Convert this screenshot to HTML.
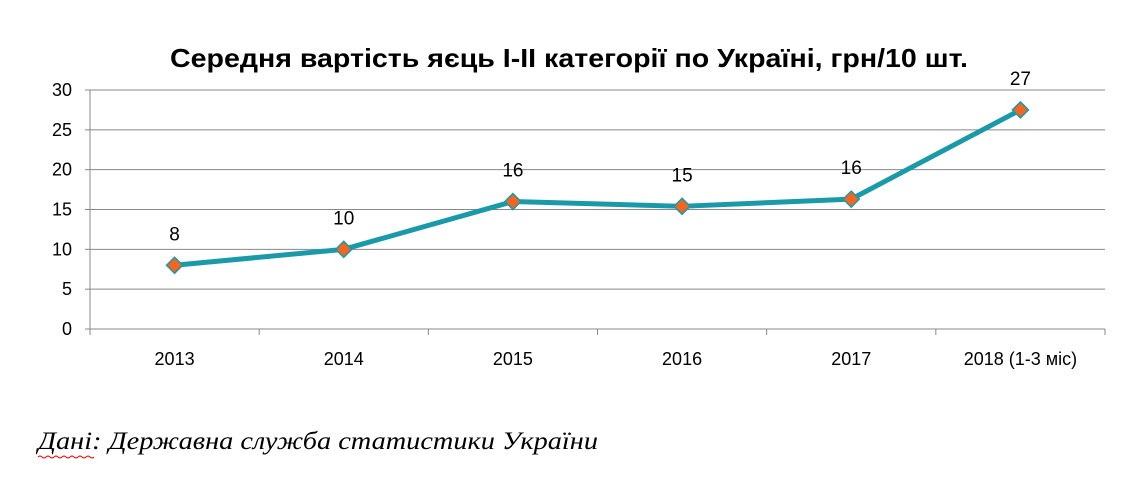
<!DOCTYPE html>
<html><head><meta charset="utf-8"><style>
body{margin:0;background:#fff;width:1130px;height:475px;overflow:hidden;font-family:"Liberation Sans",sans-serif}
</style></head><body>
<svg width="1130" height="475" xmlns="http://www.w3.org/2000/svg">
<text x="170" y="67" font-size="26" font-weight="bold" textLength="798" lengthAdjust="spacingAndGlyphs" font-family="Liberation Sans, sans-serif">Середня вартість яєць I-II категорії по Україні, грн/10 шт.</text>
<g id="grid"></g><g id="axes"></g><g id="series"></g>
<text x="38" y="449" font-size="25" font-style="italic" textLength="560" lengthAdjust="spacingAndGlyphs" font-family="Liberation Serif, serif">Дані: Державна служба статистики України</text>
<path d="M38 457 q2 -2 4 0 t4 0 t4 0 t4 0 t4 0 t4 0 t4 0 t4 0 t4 0 t4 0 t4 0 t4 0 t4 0 t4 0" stroke="#e00" stroke-width="1" fill="none"/>
</svg>
<script>
const categories=["2013","2014","2015","2016","2017","2018 (1-3 міс)"];
const values=[8,10,16,15.4,16.3,27.5];
const labels=["8","10","16","15","16","27"];
const yTicks=[0,5,10,15,20,25,30];
const NS="http://www.w3.org/2000/svg";
const X0=90,X1=1105,Y0=329,Y1=90,YMAX=30;
const band=(X1-X0)/categories.length;
const xs=i=>X0+band*(i+0.5);
const ys=v=>Y0-(v/YMAX)*(Y0-Y1);
function mk(t,a,p){const e=document.createElementNS(NS,t);for(const k in a)e.setAttribute(k,a[k]);p.appendChild(e);return e;}
const g=document.getElementById('grid'),ax=document.getElementById('axes'),s=document.getElementById('series');
yTicks.forEach(v=>{
 const y=ys(v);
 const l=mk('line',{x1:X0,x2:X1,y1:y,y2:y,stroke:'#888','stroke-width':1},g);
 
 
 const tk=mk('line',{x1:X0-5,x2:X0,y1:y,y2:y,stroke:'#888'},ax);
 
 
 const t=mk('text',{x:X0-18,y:y+6,'text-anchor':'end','font-size':18},ax);t.textContent=v;
 
 
});
const ya=mk('line',{x1:X0,x2:X0,y1:Y1,y2:Y0,stroke:'#888'},ax);


for(let i=0;i<=categories.length;i++){
 const x=X0+band*i;
 const tk=mk('line',{x1:x,x2:x,y1:Y0,y2:Y0+6,stroke:'#888'},ax);
 
 
}
categories.forEach((c,i)=>{
 const t=mk('text',{x:xs(i),y:365,'text-anchor':'middle','font-size':18},ax);t.textContent=c;
 
 
});
const pl=mk('polyline',{points:values.map((v,i)=>xs(i)+','+ys(v)).join(' '),fill:'none',stroke:'#1a9aa8','stroke-width':5,'stroke-linejoin':'round'},s);


values.forEach((v,i)=>{
 const x=xs(i),y=ys(v);
 const m=mk('polygon',{points:`${x},${y-8} ${x+8},${y} ${x},${y+8} ${x-8},${y}`,fill:'#f26522',stroke:'#1a9aa8','stroke-width':1.5},s);
 
 
 const t=mk('text',{x:x,y:y-25,'text-anchor':'middle','font-size':19},s);t.textContent=labels[i];
 
 
});
</script>
</body></html>
